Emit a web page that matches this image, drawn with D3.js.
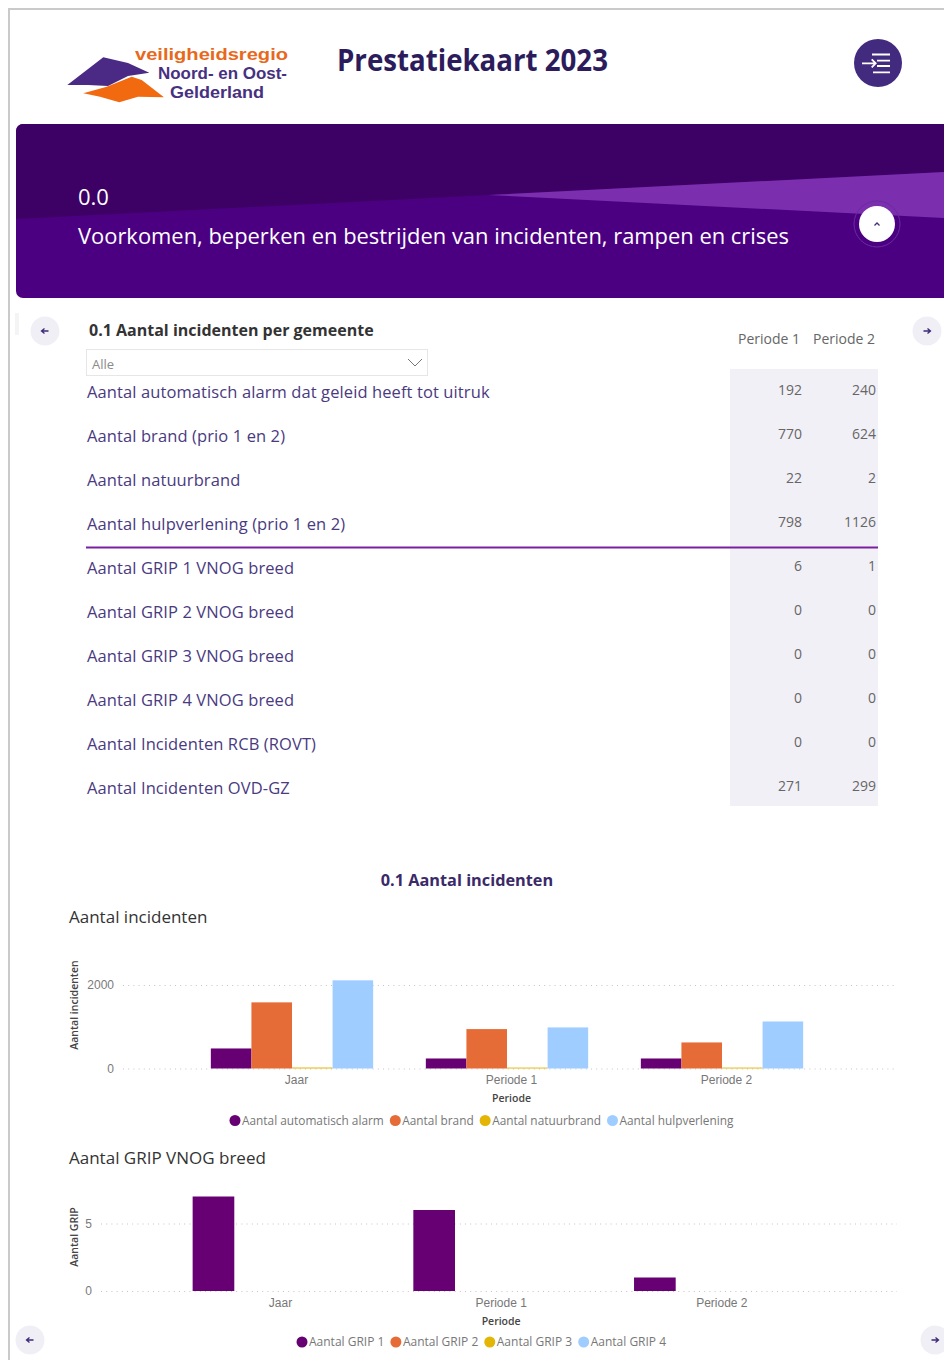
<!DOCTYPE html>
<html>
<head>
<meta charset="utf-8">
<script src="https://cdn.jsdelivr.net/npm/d3@7"></script>
<style>
  html, body { margin: 0; padding: 0; background: #fff; overflow: hidden; }
  svg { display: block; font-family: "Open Sans", "Noto Sans", sans-serif; }
  .grid .domain { display: none; }
  .grid line { stroke: #c4c4c4; stroke-dasharray: 1 4.2; }
  .grid text { fill: #7a7a7a; font-size: 12px; }
  .cats .domain { display: none; }
  .cats line { display: none; }
  .cats text { fill: #777; font-size: 12px; }
</style>
</head>
<body>
<div id="chart"></div>
<script>
const width = 944, height = 1360;

// table
const rowLabels = [
  "Aantal automatisch alarm dat geleid heeft tot uitruk",
  "Aantal brand (prio 1 en 2)",
  "Aantal natuurbrand",
  "Aantal hulpverlening (prio 1 en 2)",
  "Aantal GRIP 1 VNOG breed",
  "Aantal GRIP 2 VNOG breed",
  "Aantal GRIP 3 VNOG breed",
  "Aantal GRIP 4 VNOG breed",
  "Aantal Incidenten RCB (ROVT)",
  "Aantal Incidenten OVD-GZ"
];
const periode1 = [192, 770, 22, 798, 6, 0, 0, 0, 0, 271];
const periode2 = [240, 624, 2, 1126, 1, 0, 0, 0, 0, 299];

// first chart
const periods = ["Jaar", "Periode 1", "Periode 2"];
const incidentSeries = ["Aantal automatisch alarm", "Aantal brand", "Aantal natuurbrand", "Aantal hulpverlening"];
const alarmValues = [480, 240, 240];
const brandValues = [1584, 944, 624];
const natuurValues = [24, 22, 22];
const hulpValues = [2112, 984, 1126];
const incidentTicks = [0, 2000];

// second chart
const gripSeries = ["Aantal GRIP 1", "Aantal GRIP 2", "Aantal GRIP 3", "Aantal GRIP 4"];
const grip1Values = [7, 6, 1];
const grip2Values = [0, 0, 0];
const grip3Values = [0, 0, 0];
const grip4Values = [0, 0, 0];
const gripTicks = [0, 5];

const seriesColors = ["#660073", "#e66c37", "#e3b505", "#9fcdff"];

const svg = d3.select("#chart").append("svg").attr("width", width).attr("height", height);

// page frame
svg.append("path").attr("d", "M9,1360V9H944").attr("fill", "none").attr("stroke", "#cacaca").attr("stroke-width", 2);
svg.append("rect").attr("x", 15).attr("y", 313).attr("width", 4).attr("height", 22).attr("fill", "#f4f4f4");

// logo
const logo = svg.append("g");
logo.append("path").attr("d", "M83.3,93.3L106.7,86.7L131.7,76.7L141.7,80L164,97.3L138,96.7L119.3,102.3L100,96.7Z").attr("fill", "#f26a10");
logo.append("path").attr("d", "M67.3,85L103.3,57.3L128,63L149.3,72.7L128,76L108,86L88,85Z").attr("fill", "#4a2a84");
const logoFont = "'Liberation Sans', sans-serif";
logo.append("text").attr("x", 135).attr("y", 60).attr("textLength", 153).attr("lengthAdjust", "spacingAndGlyphs")
  .attr("font-family", logoFont).attr("font-size", 17).attr("font-weight", 700).attr("fill", "#e8691c").text("veiligheidsregio");
logo.append("text").attr("x", 158).attr("y", 79).attr("textLength", 129).attr("lengthAdjust", "spacingAndGlyphs")
  .attr("font-family", logoFont).attr("font-size", 17).attr("font-weight", 700).attr("fill", "#47307f").text("Noord- en Oost-");
logo.append("text").attr("x", 170).attr("y", 98).attr("textLength", 94).attr("lengthAdjust", "spacingAndGlyphs")
  .attr("font-family", logoFont).attr("font-size", 17).attr("font-weight", 700).attr("fill", "#47307f").text("Gelderland");

svg.append("text").attr("x", 337).attr("y", 71).attr("textLength", 271).attr("lengthAdjust", "spacingAndGlyphs")
  .attr("font-size", 30).attr("font-weight", 700).attr("fill", "#2c1c5c").text("Prestatiekaart 2023");

// menu button
svg.append("circle").attr("cx", 878).attr("cy", 63).attr("r", 24).attr("fill", "#422a7f");
svg.append("path").attr("d", "M872,54.5H890M877,60.7H890M877,66H890M873,72.3H890M862,63.3H875.7M871.7,59.3L875.7,63.3L871.7,67.3")
  .attr("fill", "none").attr("stroke", "#fff").attr("stroke-width", 1.8);

// banner
const bannerClip = svg.append("clipPath").attr("id", "banner-clip");
bannerClip.append("rect").attr("x", 16).attr("y", 124).attr("width", 960).attr("height", 174).attr("rx", 7);
const banner = svg.append("g").attr("clip-path", "url(#banner-clip)");
banner.append("rect").attr("x", 16).attr("y", 124).attr("width", 930).attr("height", 174).attr("fill", "#4b0082");
banner.append("path").attr("d", "M16,124H944V172L488,195L16,219Z").attr("fill", "#3d0064");
banner.append("path").attr("d", "M488,195L944,172V218Z").attr("fill", "#7b2fae");

svg.append("text").attr("x", 78).attr("y", 205).attr("font-size", 22).attr("fill", "#fff").text("0.0");
svg.append("text").attr("x", 78).attr("y", 244).attr("textLength", 711).attr("lengthAdjust", "spacingAndGlyphs")
  .attr("font-size", 22).attr("fill", "#fff").text("Voorkomen, beperken en bestrijden van incidenten, rampen en crises");

svg.append("circle").attr("cx", 877).attr("cy", 224).attr("r", 23).attr("fill", "none").attr("stroke", "#6a2aa0").attr("stroke-width", 1);
svg.append("circle").attr("cx", 877).attr("cy", 224).attr("r", 18).attr("fill", "#fff");
svg.append("path").attr("d", "M874.5,225.5L877,223L879.5,225.5").attr("fill", "none").attr("stroke", "#42307a").attr("stroke-width", 1.3);

// round nav buttons
function navButton(cx, cy, r, dir) {
  svg.append("circle").attr("cx", cx).attr("cy", cy).attr("r", r).attr("fill", "#f1eff6");
  svg.append("path")
    .attr("d", `M${cx - 3.5},${cy}H${cx + 3.5}M${cx + dir * 0.5},${cy - 2.5}L${cx + dir * 3.5},${cy}L${cx + dir * 0.5},${cy + 2.5}`)
    .attr("fill", "none").attr("stroke", "#3d2a78").attr("stroke-width", 1.3);
}
navButton(45, 331, 14.5, -1);
navButton(927, 331, 14.5, 1);
navButton(30, 1340, 14.5, -1);
navButton(935, 1340, 14.5, 1);

// table header
svg.append("text").attr("x", 89).attr("y", 336).attr("font-size", 16).attr("font-weight", 700).attr("fill", "#333")
  .text("0.1 Aantal incidenten per gemeente");
svg.append("text").attr("x", 800).attr("y", 344).attr("text-anchor", "end").attr("font-size", 14).attr("fill", "#666").text("Periode 1");
svg.append("text").attr("x", 875).attr("y", 344).attr("text-anchor", "end").attr("font-size", 14).attr("fill", "#666").text("Periode 2");

// dropdown
svg.append("rect").attr("x", 86.5).attr("y", 349.5).attr("width", 341).attr("height", 26).attr("fill", "#fff").attr("stroke", "#e6e6e6");
svg.append("text").attr("x", 92).attr("y", 369).attr("font-size", 13).attr("fill", "#8a8a8a").text("Alle");
svg.append("path").attr("d", "M408,359L415,366L422,359").attr("fill", "none").attr("stroke", "#777").attr("stroke-width", 1);

// table body
const rowY = d3.scalePoint().domain(d3.range(rowLabels.length)).range([392, 788.5]);

svg.append("rect").attr("x", 730).attr("y", 369).attr("width", 148).attr("height", 437).attr("fill", "#f2f0f7");

svg.selectAll(".row-label").data(rowLabels).join("text")
  .attr("class", "row-label")
  .attr("x", 87)
  .attr("y", (d, i) => rowY(i))
  .attr("dy", "0.36em")
  .attr("font-size", 16.5)
  .attr("letter-spacing", 0.1)
  .attr("fill", "#4a3a80")
  .text(d => d);

[[periode1, 802], [periode2, 876]].forEach(([values, x]) => {
  svg.selectAll(null).data(values).join("text")
    .attr("x", x)
    .attr("y", (d, i) => rowY(i) - 2.5)
    .attr("dy", "0.36em")
    .attr("text-anchor", "end")
    .attr("font-size", 14)
    .attr("fill", "#666")
    .text(d => d);
});

svg.append("line").attr("x1", 86).attr("x2", 878).attr("y1", 547.5).attr("y2", 547.5)
  .attr("stroke", "#7a1fa0").attr("stroke-width", 2);

// chart titles
svg.append("text").attr("x", 467).attr("y", 886).attr("text-anchor", "middle").attr("font-size", 16.3).attr("font-weight", 700).attr("fill", "#3a2a68")
  .text("0.1 Aantal incidenten");
svg.append("text").attr("x", 69).attr("y", 923).attr("font-size", 17).attr("fill", "#333").text("Aantal incidenten");
svg.append("text").attr("x", 69).attr("y", 1164).attr("font-size", 17).attr("fill", "#333").text("Aantal GRIP VNOG breed");

function barChart(opts) {
  const g = svg.append("g");
  const y = d3.scaleLinear().domain([0, opts.ticks[1]]).range([opts.y0, opts.yTick]);
  const x = d3.scaleBand().domain(periods).range(opts.bandRange).paddingInner(0.245).paddingOuter(0.1225);
  const slot = d3.scaleBand().domain(opts.series).range([0, x.bandwidth()]);

  g.append("g").attr("class", "grid")
    .attr("transform", `translate(${opts.gridLeft},0)`)
    .call(d3.axisLeft(y).tickValues(opts.ticks).tickSize(-(opts.gridRight - opts.gridLeft)).tickPadding(9).tickFormat(d3.format("d")));

  g.append("g").attr("class", "cats")
    .attr("transform", `translate(${opts.labelShift},${opts.y0})`)
    .call(d3.axisBottom(x).tickSize(0).tickPadding(7));

  opts.values.forEach((vals, s) => {
    g.selectAll(null).data(vals).join("rect")
      .attr("x", (d, i) => x(periods[i]) + slot(opts.series[s]))
      .attr("y", d => y(d))
      .attr("width", slot.bandwidth())
      .attr("height", d => y(0) - y(d))
      .attr("fill", seriesColors[s]);
  });

  // axis titles
  g.append("text").attr("transform", `translate(${opts.yTitleX},${opts.yTitleY}) rotate(-90)`)
    .attr("text-anchor", "middle").attr("font-size", 10.5).attr("font-weight", 600).attr("fill", "#444").text(opts.yTitle);
  g.append("text").attr("x", x(periods[1]) + x.bandwidth() / 2 + opts.labelShift).attr("y", opts.y0 + 33.5)
    .attr("text-anchor", "middle").attr("font-size", 10.5).attr("font-weight", 600).attr("fill", "#444").text("Periode");

  // legend, laid out by measured text width
  let lx = opts.legendX;
  opts.series.forEach((name, s) => {
    g.append("circle").attr("cx", lx + 5.5).attr("cy", opts.legendY).attr("r", 5.5).attr("fill", seriesColors[s]);
    const t = g.append("text").attr("x", lx + 12.5).attr("y", opts.legendY).attr("dy", "0.36em")
      .attr("font-size", opts.legendSize).attr("fill", "#777").text(name);
    lx += 12.5 + t.node().getComputedTextLength() + 6;
  });
}

barChart({
  series: incidentSeries,
  values: [alarmValues, brandValues, natuurValues, hulpValues],
  ticks: incidentTicks,
  y0: 1068.5, yTick: 985,
  bandRange: [184.5, 829.5],
  gridLeft: 123, gridRight: 897,
  labelShift: 4.5,
  yTitle: "Aantal incidenten", yTitleX: 78, yTitleY: 1005,
  legendX: 229.5, legendY: 1120.5, legendSize: 11.85
});

barChart({
  series: gripSeries,
  values: [grip1Values, grip2Values, grip3Values, grip4Values],
  ticks: gripTicks,
  y0: 1291, yTick: 1223.5,
  bandRange: [165.6, 827.7],
  gridLeft: 101, gridRight: 897,
  labelShift: 4.5,
  yTitle: "Aantal GRIP", yTitleX: 78, yTitleY: 1237,
  legendX: 296.5, legendY: 1342, legendSize: 12
});
</script>
</body>
</html>
